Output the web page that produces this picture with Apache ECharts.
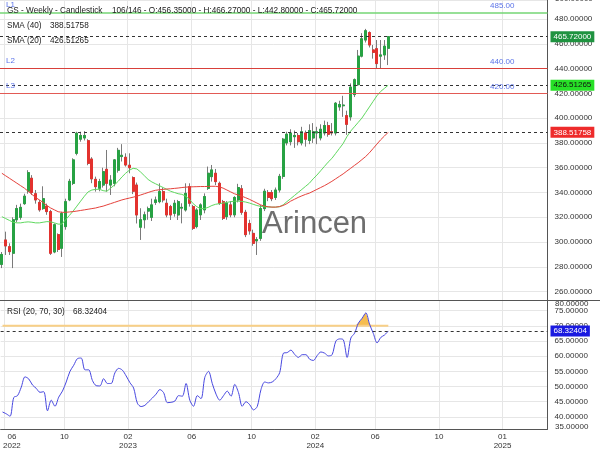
<!DOCTYPE html>
<html><head><meta charset="utf-8">
<script src="https://cdn.jsdelivr.net/npm/echarts@6/dist/echarts.min.js"></script>
<style>html,body{margin:0;padding:0;background:#fff}#c{width:600px;height:450px}</style>
</head><body><div id="c"></div>
<script>
// ---- data ----
const opens = [282,301.7,296.3,291,318,320,331,341,351.5,339,332,327,329,324.6,292,306,295,312.5,334,347.4,
371.6,383,384,381.8,367,350.6,343.4,346,358.7,346,347.4,358,369,368.4,362,352,346,312,318,325,
320,332,332.6,340.7,331.3,328.6,323.2,321.9,327.4,325.9,344.7,328.6,312.5,322,326,343.4,352.8,355.5,347.4,332.6,
320.5,330,322,334,343,324,315,307,301,303,327,340,340,336,342,353,380,381,385,386,
380,388,382,384,388,384,388,394,389,388,409,410,402,401,419,427,450,463,469,455,
456,450,451,456.35];
const closes = [290,296.9,292.3,318,327,328,337,356,340,334,326,335,324.6,291,314,294,323,332.6,349,366.3,
387.8,386,386,363.5,351,344.7,348.8,356.8,347.4,350,366.3,374,370,362.2,360,341,321.9,318,322,327,
330,334,340.7,334,321.9,321.9,331.3,332.6,328,339.3,331.3,311.1,325.9,330,336.7,355.5,358.2,348.8,331.3,319.2,
331.3,322,336,344,324,306,309,299,302,327,341,336,335,342,353,383,387,388,386,381,
389,383,390,389,389,391,394,387,388,412,411,410.5,395,425,431,450,464,470.5,459,453,
444,451,458,465.72];
const lows = [279,289.6,289.6,279,316,318,330,339,338,331,324.5,326,322,289.6,291,292,288,310,333,346,
370,381,382,362,347.5,340.7,341,344,340.7,338,345,356,365,360.9,355.5,338.7,315,301.7,311,318,
317,330,331.3,332,320,317.8,320.5,317.8,315.1,324.6,328.6,309.8,311.1,317.8,323.2,342,348.8,346,330,317.8,
318,320,320,332,322,304,306,297,289.6,301,325,333,333,334,340,351,378,378,376,378,
378,377,379,380,379,382,386,385,386,386,406,401,386.5,398,417,426,449,461,457,448,
440.2,440,447,442.8];
const highs = [292,308.4,299,320,330,331,339,358,354,342,334,345,331,326,315,307,324.5,335,351,367.6,
389,389,389.5,383,368.5,352.8,351,360,374.3,354,367,376,379,371.6,371.6,353,348,327.3,324.6,328.6,
335,336.7,347.4,344,335,330,334,334,331.3,347.4,347.4,330,327.3,331.3,339.3,360.9,362.2,359,348.8,334,
333,333,337,347,346,326,318,310,304,330,343,342,342,344,355,384,389,391,390,388,
393,390,395,396,393,395,398,397,396,413,414,418,406,428,432,455,468.5,472,470,459,
463,463,463,466.27];
const sma20 = [320.5,319,317.5,316,315.5,315.5,316,316.3,316,315.5,315.5,316,316.5,316.3,315.5,314.5,314.5,318,321.5,325,
329,333,337,340.5,342,342.5,342.6,341.5,341,343.5,346,349,352.5,355.5,358,359.5,359,356.5,353.5,350.5,
348.5,347,345.5,344,342.5,341,340,339,338.5,337,334.5,331,328.5,327,327,328,329.5,330.5,331,331.5,
332,332.6,333,333,332.8,332.3,331.5,330.5,329.5,328.8,328.5,328.3,328.2,328.2,328.5,330,332.6,335,337.5,340,
342.5,345,347.5,351,354,357.5,361,364.5,367.5,371.5,375.5,379.5,385,389.5,393,396.5,400,404.5,409,413.5,
418,421.5,424,426.51265];
const sma40 = [355.5,353.5,351.5,349.5,347.5,345.5,343.5,341,338.5,336,334,332,329.5,327.5,326,324.5,324,324,324.3,324.6,
325,325.5,326,326.5,327,327.5,328.3,329,330,331,332,333,334,334.8,335.5,336.2,337,338,339,340,
341,341.8,342.2,342.5,342.8,343,343.3,343.6,344,344.3,344.5,344.6,344.7,344.8,344.8,344.9,345,345,344.5,343.5,
342,340.5,339,338,337,335.8,334.5,333,331.5,330,329,328.5,328.2,328.2,328.6,329.5,331,333,334.5,336,
337.3,338.5,339.5,341,342.5,344,345.5,347.2,349,351,353,355,357.3,359.5,361.8,364,366.5,369,372,375.5,
379,382.5,385.5,388.51758];
const rsi = [41.6,41,40.2,46.4,47,49.8,53.2,52.5,50.5,49.4,48.1,48.3,42,45.5,43.5,46.5,48.5,51.5,55,57,
59.2,59.4,55.5,55.5,52,50.3,50.2,52.6,51,51,54.5,56,55.4,53.5,51.3,49.5,44.5,43.4,43.8,45,
46.2,47.5,49,48,44.7,44.8,45.2,47,46.8,51,45.5,43.5,47,46,53,55,51,47.5,45.5,47,
48.5,46.8,50.7,48,43.5,45,44,42.3,43.4,49,51.5,51.2,51.5,52.6,54.6,61,61.2,62,60.6,59.6,
60.5,60.5,59,58.6,60.2,61.4,61,60.1,60.5,65,65.7,65.4,59.6,66,67.6,70.9,72.5,74.3,70.5,67.5,
64.4,66.2,67,68.32404];
const levelValues = [485, 440, 420];
const levelNames = ['L1', 'L2', 'L3'];
const rsiUpper = 70;
const gridIdx = [1, 17, 34, 51, 67, 84, 100, 117, 134];
const labelIdx = [3, 17, 34, 51, 67, 84, 100, 117, 134];
const tickText = ['06\n2022', '10', '02\n2023', '06', '10', '02\n2024', '06', '10', '01\n2025'];
const edgeTickText = ['500.00000', '80.00000', '35.00000'];
const SLOTS = 146;

// ---- build ----
const F = '"Liberation Sans", Arial, sans-serif';
const N = opens.length;
const cats = [];
const d0 = Date.UTC(2022, 4, 23);
for (let i = 0; i < SLOTS; i++) cats.push(new Date(d0 + i * 7 * 86400000).toISOString().slice(0, 10));
const candleData = opens.map((o, i) => [o, closes[i], lows[i], highs[i]]);
const bodyData = opens.map((o, i) => [o, closes[i], Math.min(o, closes[i]), Math.max(o, closes[i])]);
const obBase = rsi.map(() => rsiUpper);
const obFill = rsi.map(v => Math.max(v - rsiUpper, 0));

const UP = '#27a243', DN = '#e3322e', WICK = '#7a7a7a', GRIDC = '#e6e6e6', AX = '#555';
const levelColors = ['#74d674', '#d8403a', '#e25a55'];
const levelWidths = [1.6, 1.2, 1.2];

const lastClose = closes[N - 1], lastS20 = sma20[N - 1], lastS40 = sma40[N - 1], lastRsi = rsi[N - 1];

const dash = (v, bg, fg) => ({
  yAxis: v,
  lineStyle: {type: [3, 3], color: '#333', width: 1},
  label: {show: true, position: 'end', formatter: v.toFixed(5), backgroundColor: bg, color: fg,
          padding: [2, 3, 1, 3], fontSize: 8, fontFamily: F, distance: 3}
});
const levelMarks = [];
levelValues.forEach((v, k) => {
  levelMarks.push({yAxis: v, lineStyle: {type: 'solid', color: 'rgba(0,0,0,0)', width: 1},
    label: {show: true, position: 'insideEndTop', formatter: v.toFixed(2), color: '#5b73e8', fontSize: 8, fontFamily: F, distance: [5, 3], padding: [0, 28, 0, 0]}});
  levelMarks.push({yAxis: v, lineStyle: {type: 'solid', color: levelColors[k], width: levelWidths[k]},
    label: {show: true, position: 'insideStartTop', formatter: levelNames[k], color: '#5b73e8', fontSize: 8, fontFamily: F, distance: [6, 4]}});
});

const xBase = (gi) => ({
  type: 'category', gridIndex: gi, data: cats, boundaryGap: true,
  axisLine: {show: gi === 1, lineStyle: {color: AX}},
  axisTick: {show: false},
  axisLabel: {show: gi === 1, interval: (i) => labelIdx.includes(i),
    formatter: (v, i) => tickText[labelIdx.indexOf(i)],
    fontSize: 8, fontFamily: F, color: '#333', lineHeight: 9, margin: 3, padding: [0, 3.75, 0, 0]},
  splitLine: {show: true, interval: (i) => gridIdx.includes(i), lineStyle: {color: GRIDC}}
});

const lbl = (x, y, text, extra) => Object.assign({type: 'text', x: x, y: y, z: 100,
  style: {text: text, fill: '#222', font: '8.2px ' + F, verticalAlign: 'middle'}}, extra || {});

const option = {
  animation: false,
  backgroundColor: '#fff',
  textStyle: {fontFamily: F},
  grid: [
    {left: 0, right: 52.5, top: 0, height: 300.7},
    {left: 0, right: 52.5, top: 300.7, height: 131}
  ],
  xAxis: [xBase(0), xBase(1)],
  yAxis: [
    {type: 'value', gridIndex: 0, position: 'right', min: 252.7, max: 495.3, splitNumber: 12,
     axisLine: {show: true, lineStyle: {color: AX}}, axisTick: {show: false},
     axisLabel: {fontSize: 8, fontFamily: F, color: '#333', margin: 7, showMinLabel: false, showMaxLabel: false,
       formatter: v => v.toFixed(5)},
     splitLine: {lineStyle: {color: GRIDC}}},
    {type: 'value', gridIndex: 1, position: 'right', min: 36, max: 78.3, splitNumber: 8,
     axisLine: {show: true, lineStyle: {color: AX}}, axisTick: {show: false},
     axisLabel: {fontSize: 8, fontFamily: F, color: '#333', margin: 7, showMinLabel: false, showMaxLabel: false,
       formatter: v => v.toFixed(5)},
     splitLine: {lineStyle: {color: GRIDC}}}
  ],
  series: [
    {name: 'wick', type: 'candlestick', xAxisIndex: 0, yAxisIndex: 0, data: candleData, barWidth: 2.7,
     itemStyle: {color: WICK, color0: WICK, borderColor: WICK, borderColor0: WICK, borderColorDoji: WICK, borderWidth: 1},
     markLine: {silent: true, symbol: ['none', 'none'], animation: false,
       data: levelMarks.concat([dash(lastClose, '#1f9340', '#fff'), dash(lastS20, '#27e027', '#111'), dash(lastS40, '#ee2b2b', '#fff')])}},
    {name: 'body', type: 'candlestick', xAxisIndex: 0, yAxisIndex: 0, data: bodyData, barWidth: 2.7,
     itemStyle: {color: UP, color0: DN, borderColor: UP, borderColor0: DN, borderColorDoji: WICK, borderWidth: 1}},
    {name: 'SMA (20)', type: 'line', xAxisIndex: 0, yAxisIndex: 0, data: sma20, symbol: 'none',
     lineStyle: {color: '#5fd85f', width: 1}},
    {name: 'SMA (40)', type: 'line', xAxisIndex: 0, yAxisIndex: 0, data: sma40, symbol: 'none',
     lineStyle: {color: '#e5423c', width: 1}},
    {name: 'ob', type: 'line', xAxisIndex: 1, yAxisIndex: 1, data: obBase, stack: 'ob', symbol: 'none',
     lineStyle: {color: '#f8cf86', width: 2}},
    {name: 'obfill', type: 'line', xAxisIndex: 1, yAxisIndex: 1, data: obFill, stack: 'ob', symbol: 'none',
     lineStyle: {width: 0}, areaStyle: {color: '#f6bd50', opacity: 1}},
    {name: 'RSI', type: 'line', xAxisIndex: 1, yAxisIndex: 1, data: rsi, symbol: 'none', smooth: 0.3,
     lineStyle: {color: '#4747e0', width: 1},
     markLine: {silent: true, symbol: ['none', 'none'], animation: false,
       data: [dash(lastRsi, '#1a1ae0', '#fff')]}}
  ],
  graphic: [
    {type: 'line', shape: {x1: 0, y1: 300.5, x2: 600, y2: 300.5}, style: {stroke: AX, lineWidth: 1}, z: 50},
    lbl(7, 11, 'GS - Weekly - Candlestick'),
    lbl(112, 11, '106/146 - O:' + opens[N-1].toFixed(5) + ' - H:' + highs[N-1].toFixed(5) + ' - L:' + lows[N-1].toFixed(5) + ' - C:' + lastClose.toFixed(5)),
    lbl(7, 25.7, 'SMA (40)'),
    lbl(50, 25.7, lastS40.toFixed(5)),
    lbl(7, 40.7, 'SMA (20)'),
    lbl(50, 40.7, lastS20.toFixed(5)),
    lbl(7, 311.7, 'RSI (20, 70, 30)'),
    lbl(73, 311.7, lastRsi.toFixed(5)),
    {type: 'text', x: 555, y: -1.5, z: 40, style: {text: edgeTickText[0], fill: '#333', font: '8px ' + F, verticalAlign: 'middle'}},
    {type: 'text', x: 555, y: 303.5, z: 40, style: {text: edgeTickText[1], fill: '#333', font: '8px ' + F, verticalAlign: 'middle'}},
    {type: 'text', x: 555, y: 426.7, z: 40, style: {text: edgeTickText[2], fill: '#333', font: '8px ' + F, verticalAlign: 'middle'}},
    {type: 'text', x: 262, y: 224, z: 100, style: {text: 'Arincen', fill: 'rgba(85,85,85,0.85)', font: '31px ' + F, verticalAlign: 'middle'}}
  ]
};
const chart = echarts.init(document.getElementById('c'));
chart.setOption(option);
</script></body></html>
